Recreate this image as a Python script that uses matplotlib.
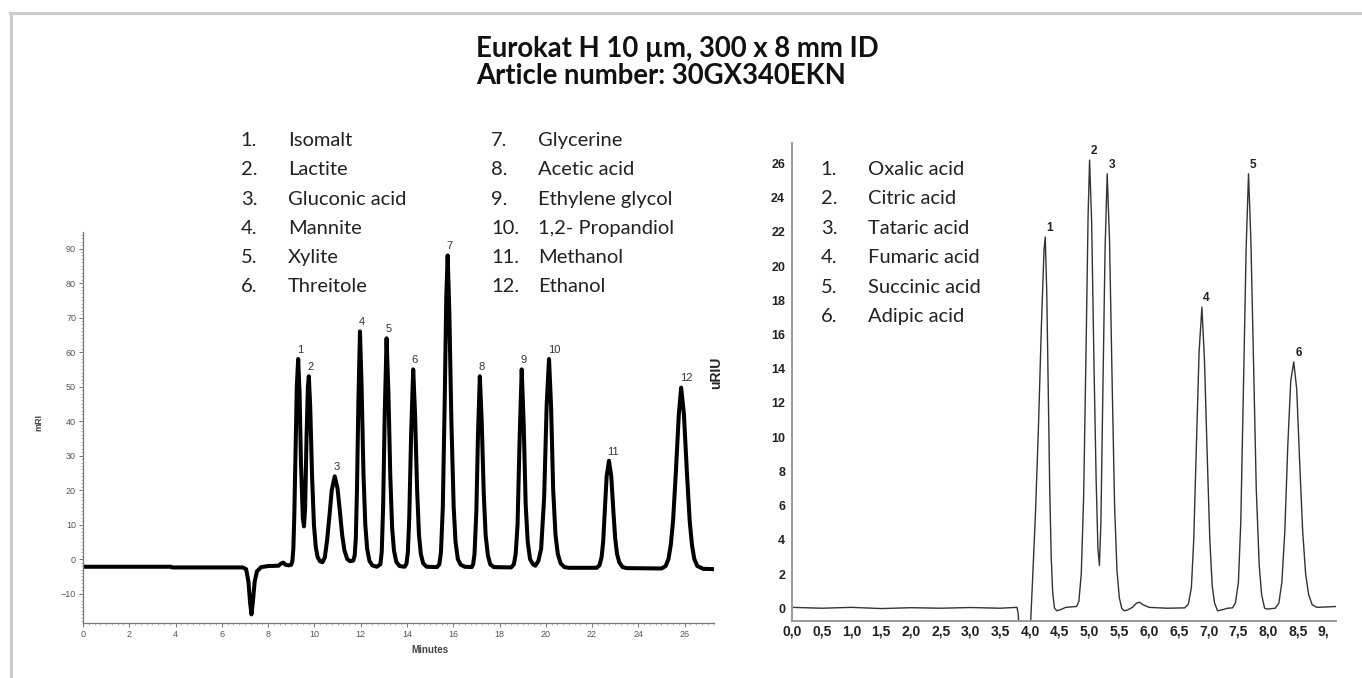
import matplotlib
matplotlib.use('Agg')
import matplotlib.pyplot as plt
from matplotlib.lines import Line2D
from matplotlib.ticker import MultipleLocator, FuncFormatter
from matplotlib.transforms import Bbox, TransformedBbox

plt.rcParams['font.family'] = ['Liberation Sans', 'DejaVu Sans']

title_lines = ['Eurokat H 10 µm, 300 x 8 mm ID', 'Article number: 30GX340EKN']

sugar_names = ['Isomalt', 'Lactite', 'Gluconic acid', 'Mannite', 'Xylite', 'Threitole',
               'Glycerine', 'Acetic acid', 'Ethylene glycol', '1,2- Propandiol',
               'Methanol', 'Ethanol']
acid_names = ['Oxalic acid', 'Citric acid', 'Tataric acid', 'Fumaric acid',
              'Succinic acid', 'Adipic acid']

# sugars / alcohols trace, (minutes, mRI)
sugar_trace = [
    (0.0, -2.2), (3.8, -2.2), (3.85, -2.4), (6.9, -2.4), (7.05, -2.9), (7.15, -6.5),
    (7.22, -12.5), (7.28, -16), (7.34, -12.5), (7.42, -6.5), (7.52, -3.5), (7.7, -2.3),
    (8.0, -2.0), (8.45, -1.9), (8.55, -1.3), (8.65, -1.0), (8.75, -1.6), (8.9, -1.8),
    (9.0, -1.6), (9.05, -0.5), (9.09, 3), (9.13, 12), (9.18, 30), (9.24, 50), (9.3, 58),
    (9.36, 48), (9.42, 28), (9.5, 12), (9.55, 9.5), (9.6, 15), (9.66, 35), (9.72, 50),
    (9.76, 53), (9.82, 44), (9.9, 24), (9.98, 10), (10.06, 3.5), (10.14, 0.6),
    (10.24, -0.6), (10.35, -0.9),
    (10.45, 0.5), (10.55, 5.5), (10.65, 12.5), (10.75, 20), (10.88, 24), (11.0, 20.5),
    (11.1, 14), (11.2, 7), (11.3, 2.5), (11.42, 0), (11.55, -0.6), (11.68, -0.4),
    (11.74, 1), (11.79, 6), (11.84, 20), (11.9, 45), (11.97, 66), (12.04, 50),
    (12.12, 25), (12.2, 10), (12.28, 3), (12.38, -0.5), (12.5, -1.8), (12.7, -2.2),
    (12.85, -1.5), (12.91, 2), (12.97, 15), (13.04, 42), (13.12, 64), (13.2, 48),
    (13.28, 24), (13.36, 9), (13.44, 2.5), (13.54, -0.8), (13.68, -2), (13.9, -2.2),
    (13.98, -1.3), (14.04, 2), (14.1, 12), (14.18, 36), (14.27, 55), (14.35, 42),
    (14.44, 20), (14.52, 7), (14.6, 1.5), (14.7, -1.2), (14.85, -2.2), (15.3, -2.3),
    (15.4, -1.5), (15.47, 2), (15.55, 15), (15.63, 45), (15.7, 76), (15.76, 88),
    (15.83, 72), (15.92, 40), (16.02, 15), (16.1, 5), (16.2, 0), (16.32, -1.6),
    (16.5, -2.2), (16.8, -2.3),
    (16.86, -1.5), (16.92, 1.5), (17.0, 14), (17.07, 36), (17.15, 53), (17.23, 40),
    (17.32, 19), (17.4, 7), (17.5, 1), (17.6, -1.5), (17.75, -2.3), (18.5, -2.4),
    (18.62, -1.5), (18.7, 1.5), (18.78, 10), (18.87, 35), (18.96, 55), (19.05, 38),
    (19.13, 16), (19.22, 5), (19.32, 0), (19.45, -1.5), (19.55, -1.9), (19.68, -0.5),
    (19.8, 3), (19.93, 18), (20.04, 45), (20.14, 58), (20.23, 44), (20.32, 20),
    (20.42, 7), (20.52, 1.5), (20.64, -1.2), (20.8, -2.3), (21.0, -2.5), (22.2, -2.5),
    (22.32, -1.8), (22.41, 0.5), (22.48, 5), (22.55, 14), (22.63, 24), (22.73, 28.5),
    (22.83, 24), (22.92, 14), (23.0, 6), (23.08, 1.5), (23.18, -1), (23.32, -2.3),
    (23.5, -2.6), (25.0, -2.7),
    (25.18, -2.0), (25.3, 0), (25.4, 4), (25.5, 11), (25.62, 25), (25.75, 42),
    (25.85, 49.7), (25.97, 42), (26.1, 25), (26.22, 11), (26.32, 4), (26.42, 0),
    (26.55, -2), (26.8, -2.8), (27.3, -2.9),
]
sugar_peak_t = [9.3, 9.76, 10.88, 11.97, 13.12, 14.27, 15.76, 17.15, 18.96, 20.14, 22.73, 25.85]
sugar_peak_h = [58, 53, 24, 66, 64, 55, 88, 53, 55, 58, 28.5, 49.7]

# organic acids trace, (minutes, uRIU)
acid_trace = [
    (0.0, 0.05), (0.5, 0.0), (1.0, 0.05), (1.5, -0.02), (2.0, 0.03), (2.5, 0.0),
    (3.0, 0.04), (3.5, 0.0), (3.78, 0.05), (3.8, -0.3), (3.82, -1.5), (4.0, -1.5),
    (4.04, 1.5), (4.09, 5.5), (4.14, 10.5), (4.19, 16.5), (4.235, 21), (4.255, 21.7),
    (4.28, 18.5), (4.3, 14), (4.33, 7), (4.355, 3), (4.38, 0.9), (4.41, 0.0),
    (4.45, -0.15), (4.5, -0.1), (4.6, 0.05), (4.78, 0.1),
    (4.82, 0.4), (4.86, 2), (4.9, 6.5), (4.94, 15), (4.975, 23), (5.0, 26.2),
    (5.035, 22.5), (5.075, 14), (5.11, 7.5), (5.14, 3.5), (5.165, 2.5), (5.19, 5),
    (5.22, 12), (5.26, 21), (5.296, 25.4), (5.335, 21.5), (5.38, 13), (5.42, 6),
    (5.46, 2.2), (5.5, 0.6), (5.54, 0.0), (5.58, -0.15), (5.64, -0.1), (5.72, 0.05),
    (5.79, 0.3), (5.84, 0.35), (5.9, 0.2), (6.0, 0.05), (6.3, 0.0), (6.6, 0.02),
    (6.66, 0.25), (6.71, 1.2), (6.75, 4), (6.79, 9), (6.84, 15), (6.887, 17.6),
    (6.93, 14.5), (6.98, 8.5), (7.02, 4), (7.06, 1.3), (7.1, 0.3), (7.15, -0.15),
    (7.22, -0.1), (7.32, 0.0), (7.4, 0.02),
    (7.45, 0.3), (7.5, 1.5), (7.54, 5), (7.58, 12), (7.63, 21), (7.67, 25.4),
    (7.71, 21.5), (7.76, 13.5), (7.8, 7), (7.85, 2.5), (7.89, 0.8), (7.94, 0.0),
    (7.99, -0.05), (8.12, 0.0),
    (8.18, 0.3), (8.23, 1.5), (8.28, 4.5), (8.33, 9.5), (8.38, 13.3), (8.43, 14.4),
    (8.48, 12.8), (8.53, 8.5), (8.58, 4.5), (8.63, 2), (8.68, 0.8), (8.74, 0.2),
    (8.82, 0.05), (9.14, 0.1),
]
acid_peak_t = [4.255, 5.0, 5.296, 6.887, 7.67, 8.43]
acid_peak_h = [21.7, 26.2, 25.4, 17.6, 25.4, 14.4]

W, H = 1362, 678
fig = plt.figure(figsize=(W / 100, H / 100), dpi=100)


def px(x, y):
    return x / W, 1 - y / H


# grey frame (top and left only)
fig.add_artist(Line2D([10 / W, 1], [1 - 12.5 / H] * 2, color='#cccccc', lw=2.2))
fig.add_artist(Line2D([10.5 / W] * 2, [0, 1 - 12.5 / H], color='#cccccc', lw=2.2))

# title
for i, line in enumerate(title_lines):
    fig.text(*px(476, 49 + 27 * i), line, ha='left', va='center', fontsize=19.8,
             weight='bold', family=['Lato', 'DejaVu Sans'], color='#111111')

# compound lists
legend_font = dict(fontsize=14.5, family=['Lato', 'DejaVu Sans'], color='#222222',
                   va='center', ha='left')
for i, name in enumerate(sugar_names):
    col, row = divmod(i, 6)
    y = 140.7 + row * 29.2
    xn = 240.7 if col == 0 else 491
    xt = 288 if col == 0 else 538
    fig.text(*px(xn, y), f'{i + 1}.', **legend_font)
    fig.text(*px(xt, y), name, **legend_font)
for i, name in enumerate(acid_names):
    y = 169.3 + i * 29.45
    fig.text(*px(820.7, y), f'{i + 1}.', **legend_font)
    fig.text(*px(868.3, y), name, **legend_font)

# left chromatogram
ax1 = fig.add_axes([83 / W, (H - 623) / H, 631 / W, 391 / H])
t1 = [p[0] for p in sugar_trace]
s1 = [p[1] for p in sugar_trace]
ax1.plot(t1, s1, color='black', lw=2.9, solid_joinstyle='round')
ax1.set_xlim(0, 27.27)
ax1.set_ylim(-18.5, 94.8)
for s in ['top', 'right']:
    ax1.spines[s].set_visible(False)
for s in ['left', 'bottom']:
    ax1.spines[s].set_color('#777777')
    ax1.spines[s].set_linewidth(0.9)
ax1.xaxis.set_major_locator(MultipleLocator(2))
ax1.xaxis.set_minor_locator(MultipleLocator(0.25))
ax1.yaxis.set_major_locator(MultipleLocator(10))
ax1.yaxis.set_minor_locator(MultipleLocator(1))
ax1.tick_params(which='major', length=3, width=0.7, color='#777777',
                labelsize=6.5, labelcolor='#555555', pad=2)
ax1.tick_params(which='minor', length=1.5, width=0.5, color='#999999')
ax1.set_ylabel('mRI', fontsize=6.5, weight='bold', color='#444444')
ax1.yaxis.set_label_coords((43 - 83) / 631, (623 - 422) / 391)
ax1.set_xlabel('Minutes', fontsize=7, weight='bold', color='#444444')
ax1.xaxis.set_label_coords((430 - 83) / 631, -(645 - 623) / 391)
for i, (t, h) in enumerate(zip(sugar_peak_t, sugar_peak_h)):
    ax1.annotate(str(i + 1), (t, h), xytext=(-1, 3), textcoords='offset points',
                 ha='left', va='bottom', fontsize=8, color='#333333')

# right chromatogram
ax2 = fig.add_axes([792 / W, (H - 620.7) / H, 544 / W, (620.7 - 143) / H])
t2 = [p[0] for p in acid_trace]
s2 = [p[1] for p in acid_trace]
ax2.plot(t2, s2, color='#333333', lw=1.0)
ax2.set_xlim(0, 9.14)
ax2.set_ylim(-0.73, 27.2)
for s in ['top', 'right']:
    ax2.spines[s].set_visible(False)
for s in ['left', 'bottom']:
    ax2.spines[s].set_color('#999999')
    ax2.spines[s].set_linewidth(1.4)
ax2.set_yticks(range(0, 27, 2))
ax2.set_xticks([i * 0.5 for i in range(19)])
ax2.xaxis.set_major_formatter(FuncFormatter(lambda v, p: f'{v:.1f}'.replace('.', ',')))
ax2.tick_params(length=0)
ax2.tick_params(axis='y', labelsize=9, pad=5)
ax2.tick_params(axis='x', labelsize=10, pad=3)
for lab in ax2.get_xticklabels() + ax2.get_yticklabels():
    lab.set_fontweight('bold')
    lab.set_color('#222222')
ax2.set_ylabel('uRIU', fontsize=10, weight='bold', color='#222222')
ax2.yaxis.set_label_coords((723 - 792) / 544, (620.7 - 373) / (620.7 - 143))
ax2.set_xlabel('Minutes', fontsize=10, weight='bold', color='#222222')
ax2.xaxis.set_label_coords((1065 - 792) / 544, -(652 - 620.7) / (620.7 - 143))
for i, (t, h) in enumerate(zip(acid_peak_t, acid_peak_h)):
    ax2.annotate(str(i + 1), (t, h), xytext=(1, 2), textcoords='offset points',
                 ha='left', va='bottom', fontsize=8.5, weight='bold', color='#222222')

# the source picture is cropped at the right edge and just under the tick labels
crop = TransformedBbox(Bbox([[0, 1 - 650 / H], [1329 / W, 1]]), fig.transFigure)
for tick in ax2.xaxis.get_major_ticks():
    tick.label1.set_clip_box(crop)
    tick.label1.set_clip_on(True)
ax2.xaxis.label.set_clip_box(crop)
ax2.xaxis.label.set_clip_on(True)

fig.savefig('out.png', dpi=100)
